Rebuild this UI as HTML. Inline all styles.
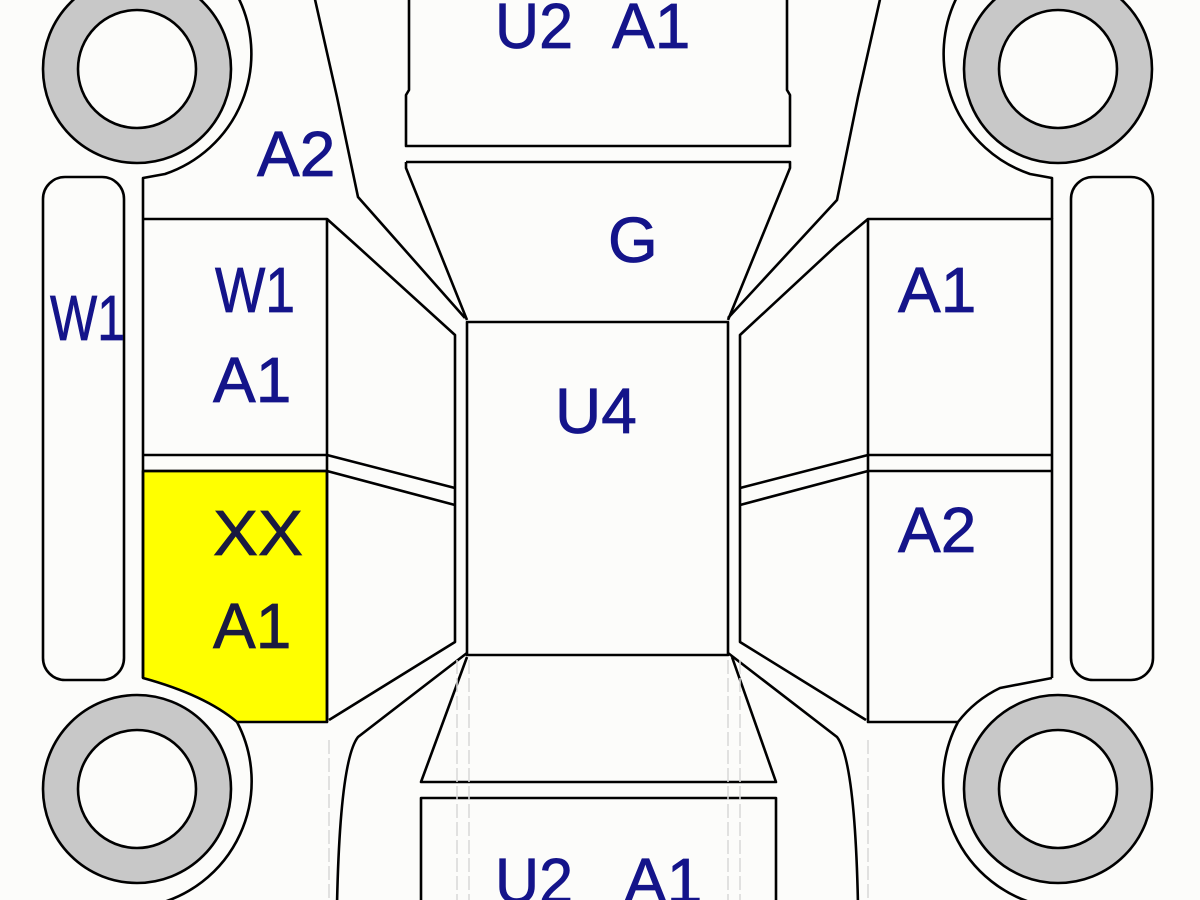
<!DOCTYPE html>
<html><head><meta charset="utf-8"><style>
html,body{margin:0;padding:0;background:#fcfcfa;}
svg{display:block}
text{font-family:"Liberation Sans",Arial,sans-serif;font-size:64px;fill:#14148a;stroke:#14148a;stroke-width:0.8px;}
</style></head><body>
<svg width="1200" height="900" viewBox="0 0 1200 900" xmlns="http://www.w3.org/2000/svg">
<rect width="1200" height="900" fill="#fcfcfa"/>
<g fill="none" stroke="#000" stroke-width="2.6" stroke-linejoin="round">
<path d="M143,471 H327 V722 H237 Q205,695 143,678 Z" fill="#ffff00"/>
<circle cx="137" cy="69" r="94" fill="#c8c8c8"/><circle cx="137" cy="69" r="59" fill="#fcfcfa"/>
<circle cx="1058" cy="69" r="94" fill="#c8c8c8"/><circle cx="1058" cy="69" r="59" fill="#fcfcfa"/>
<circle cx="137" cy="789" r="94" fill="#c8c8c8"/><circle cx="137" cy="789" r="59" fill="#fcfcfa"/>
<circle cx="1058" cy="789" r="94" fill="#c8c8c8"/><circle cx="1058" cy="789" r="59" fill="#fcfcfa"/>
<path d="M237,-5 A127,127 0 0 1 165,174 L143,178 V219"/>
<path d="M958,-5 A127,127 0 0 0 1030,174 L1052,178 V219"/>
<path d="M237,722 A127,127 0 0 1 153,905"/>
<path d="M958,722 A127,127 0 0 0 1040,905"/>
<path d="M1052,678 L1000,688 Q975,700 958,722"/>
<rect x="43" y="177" width="81" height="503" rx="22"/>
<rect x="1071" y="177" width="82" height="503" rx="22"/>
<path d="M143,219 H327 V722"/><path d="M143,219 V678"/>
<line x1="143" y1="455" x2="327" y2="455"/><line x1="143" y1="471" x2="327" y2="471"/>
<path d="M958,722 H868 V219 H1052 V678"/>
<line x1="868" y1="455" x2="1052" y2="455"/><line x1="868" y1="471" x2="1052" y2="471"/>
<path d="M314,-5 L337,97 L358,197 L465,318"/>
<path d="M881,-5 L858,97 L837,200 L728,318"/>
<path d="M327,219 L356,245 L455,335 V642 L329,720"/>
<path d="M868,219 L837,245 L740,335 V642 L866,720"/>
<line x1="327" y1="455" x2="455" y2="488"/><line x1="327" y1="471" x2="455" y2="505"/>
<line x1="868" y1="455" x2="740" y2="488"/><line x1="868" y1="471" x2="740" y2="505"/>
<path d="M467,653 L358,737 Q340,760 337,905"/>
<path d="M728,653 L837,737 Q855,760 858,905"/>
<path d="M409,-5 V90 L406,95 V146 H790 V95 L787,90 V-5"/>
<path d="M406,162 H790 V168 L728,320 M406,162 V168 L467,320"/>
<rect x="467" y="322" width="261" height="333"/>
<path d="M467,657 L421,782 H776 L732,657"/>
<path d="M421,905 V798 H776 V905"/>
</g>
<g stroke="#d8d8d8" stroke-width="1.5" fill="none" stroke-dasharray="14,4">
<line x1="329" y1="740" x2="329" y2="900"/>
<line x1="457" y1="660" x2="457" y2="900"/>
<line x1="469" y1="660" x2="469" y2="900"/>
<line x1="728" y1="660" x2="728" y2="900"/>
<line x1="740" y1="660" x2="740" y2="900"/>
<line x1="868" y1="740" x2="868" y2="900"/>
</g>
<text x="495" y="48" textLength="78" lengthAdjust="spacingAndGlyphs">U2</text><text x="612" y="48">A1</text>
<text x="257" y="176">A2</text>
<text x="608" y="262">G</text>
<text x="50" y="340" textLength="75" lengthAdjust="spacingAndGlyphs">W1</text>
<text x="215" y="312" textLength="80" lengthAdjust="spacingAndGlyphs">W1</text>
<text x="213" y="402">A1</text>
<text x="555" y="433">U4</text>
<text x="213" y="555" textLength="90" lengthAdjust="spacingAndGlyphs" style="fill:#1a1a40;stroke:#1a1a40">XX</text>
<text x="213" y="648" style="fill:#1a1a40;stroke:#1a1a40">A1</text>
<text x="898" y="312">A1</text>
<text x="898" y="552">A2</text>
<text x="495" y="903" textLength="78" lengthAdjust="spacingAndGlyphs">U2</text><text x="624" y="903">A1</text>
</svg>
</body></html>
